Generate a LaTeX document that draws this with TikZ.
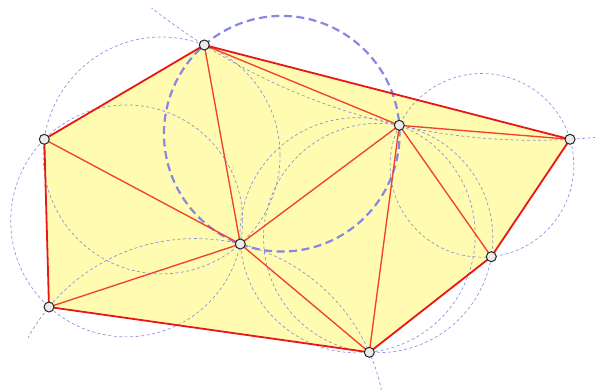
\documentclass[tikz,border=0pt]{standalone}
\definecolor{yfill}{RGB}{255,252,178}
\definecolor{hullred}{RGB}{232,22,22}
\definecolor{inred}{RGB}{240,65,50}
\definecolor{cblue}{RGB}{105,105,220}
\definecolor{tblue}{RGB}{135,135,228}
\tikzset{
  hull/.style={draw=hullred, line width=1.8pt, line join=round},
  inner/.style={draw=inred, line width=1.35pt},
  thincirc/.style={draw=cblue, draw opacity=0.72, line width=0.7pt, dash pattern=on 3pt off 2.5pt},
  thickcirc/.style={draw=tblue, line width=2.2pt, dash pattern=on 8pt off 4.5pt},
  vertex/.style={circle, draw=black!85, line width=1pt, fill=black!8, minimum size=10pt, inner sep=0pt}
}
\def\setpt#1#2#3{\expandafter\def\csname px#1\endcsname{#2}\expandafter\def\csname py#1\endcsname{#3}}
\setpt{A}{204.3}{45}
\setpt{B}{44.3}{139.3}
\setpt{C}{240.3}{244}
\setpt{D}{399.3}{125.3}
\setpt{E}{570}{139.3}
\setpt{F}{491.3}{256.7}
\setpt{G}{49}{307}
\setpt{H}{369.3}{352.3}
\newcommand\ccirc[4][]{%
 \edef\cPx{\csname px#4\endcsname}\edef\cPy{\csname py#4\endcsname}%
 \pgfmathsetmacro\cax{((\csname px#2\endcsname)-(\cPx))/100}%
 \pgfmathsetmacro\cay{((\csname py#2\endcsname)-(\cPy))/100}%
 \pgfmathsetmacro\cbx{((\csname px#3\endcsname)-(\cPx))/100}%
 \pgfmathsetmacro\cby{((\csname py#3\endcsname)-(\cPy))/100}%
 \pgfmathsetmacro\cd{2*((\cax)*(\cby)-(\cay)*(\cbx))}%
 \pgfmathsetmacro\caa{(\cax)*(\cax)+(\cay)*(\cay)}%
 \pgfmathsetmacro\cbb{(\cbx)*(\cbx)+(\cby)*(\cby)}%
 \pgfmathsetmacro\cux{((\cby)*(\caa)-(\cay)*(\cbb))/(\cd)}%
 \pgfmathsetmacro\cuy{((\cax)*(\cbb)-(\cbx)*(\caa))/(\cd)}%
 \pgfmathsetmacro\ccx{\cPx+100*(\cux)}%
 \pgfmathsetmacro\ccy{\cPy+100*(\cuy)}%
 \pgfmathsetmacro\crr{100*sqrt((\cux)*(\cux)+(\cuy)*(\cuy))}%
 \draw[#1] (\ccx,\ccy) circle[radius=\crr pt];%
}
\begin{document}
\begin{tikzpicture}[x=1pt,y=-1pt]
\useasboundingbox (0,0) rectangle (595,389);
\foreach \p in {A,B,C,D,E,F,G,H}{
  \coordinate (\p) at (\csname px\p\endcsname,\csname py\p\endcsname);
}
% filled hull
\fill[yfill] (A) -- (E) -- (F) -- (H) -- (G) -- (B) -- cycle;
% circumcircles
\begin{scope}
  \clip (0,8) rectangle (595,389);
  \ccirc[thincirc]{A}{B}{C}
  \ccirc[thincirc]{B}{C}{G}
  \ccirc[thincirc]{C}{D}{H}
  \ccirc[thincirc]{D}{F}{H}
  \ccirc[thincirc]{D}{E}{F}
  \ccirc[thincirc]{A}{D}{E}
\end{scope}
\begin{scope}
  \clip (28,8) rectangle (595,389);
  \ccirc[thincirc]{C}{G}{H}
\end{scope}
\ccirc[thickcirc]{A}{C}{D}
% interior edges
\draw[inner] (A) -- (C);
\draw[inner] (A) -- (D);
\draw[inner] (B) -- (C);
\draw[inner] (C) -- (G);
\draw[inner] (C) -- (H);
\draw[inner] (C) -- (D);
\draw[inner] (D) -- (E);
\draw[inner] (D) -- (F);
\draw[inner] (D) -- (H);
% hull edges
\draw[hull] (A) -- (E);
\draw[hull] (E) -- (F);
\draw[hull] (F) -- (H);
\draw[hull] (H) -- (G);
\draw[hull] (G) -- (B);
\draw[hull] (B) -- (A);
% vertices
\foreach \p in {A,B,C,D,E,F,G,H}{
  \node[vertex] (v\p) at (\p) {};
}
\end{tikzpicture}
\end{document}
